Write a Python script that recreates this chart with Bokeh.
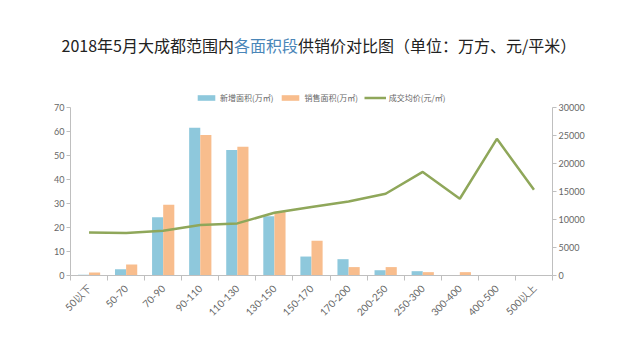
import math
from bokeh.plotting import figure
from bokeh.models import (Range1d, LinearAxis, FixedTicker, Legend, LegendItem,
                          Label, ColumnDataSource)
from bokeh.transform import dodge
from bokeh.embed import file_html
from bokeh.resources import INLINE

categories = ["50以下", "50-70", "70-90", "90-110", "110-130", "130-150", "150-170",
              "170-200", "200-250", "250-300", "300-400", "400-500", "500以上"]
new_area = [0.3, 2.6, 24.3, 61.6, 52.3, 24.7, 7.9, 6.8, 2.2, 1.8, 0.2, 0.0, 0.0]
sold_area = [1.2, 4.6, 29.5, 58.5, 53.6, 26.6, 14.5, 3.5, 3.5, 1.4, 1.4, 0.1, 0.1]
avg_price = [7700, 7600, 8000, 9000, 9300, 11200, 12250, 13200, 14600, 18500, 13700, 24400, 15300]
left_ticks = [0, 10, 20, 30, 40, 50, 60, 70]
right_ticks = [0, 5000, 10000, 15000, 20000, 25000, 30000]

title_parts = ["2018年5月大成都范围内", "各面积段", "供销价对比图（单位：万方、元/平米）"]
title_colors = ["#222222", "#4a86b8", "#222222"]

BLUE = "#8ec8dc"
ORANGE = "#f8bd8d"
GREEN = "#8fa75a"
AXIS = "#bfbfbf"
LABEL = "#666666"
FONT = "Lato"
CJK = "Noto Sans CJK SC"

W, H = 624, 344
N = len(categories)
AX_L, AX_R = 70, 552          # canvas px of the two value axes
FR_L, FR_R = 30, 588          # frame extent (wide, so title and tick labels fit inside)
BOTTOM = 275                  # x axis position
AXIS_H = 168                  # pixel height of the 0..70 part of the axis
BAND = (AX_R - AX_L) / N
L_MAX, R_MAX = left_ticks[-1], right_ticks[-1]
BELOW = (H - BOTTOM) / AXIS_H  # share of the axis scale that lies below zero

idx = list(range(N))
src = ColumnDataSource(dict(x=idx, new=new_area, sold=sold_area, price=avg_price))

p = figure(width=W, height=H, output_backend="svg", toolbar_location=None,
           x_range=Range1d(-0.5 - (AX_L - FR_L) / BAND, N - 0.5 + (FR_R - AX_R) / BAND),
           y_range=Range1d(-L_MAX * BELOW, L_MAX * BOTTOM / AXIS_H),
           min_border_left=FR_L, min_border_right=W - FR_R, min_border_top=0,
           min_border_bottom=0)
p.outline_line_color = None
p.grid.grid_line_color = None

p.extra_y_ranges = {"price": Range1d(-R_MAX * BELOW, R_MAX * BOTTOM / AXIS_H)}

r1 = p.vbar(x=dodge("x", -0.15, range=p.x_range), top="new", width=0.3, source=src,
            fill_color=BLUE, line_color=None)
r2 = p.vbar(x=dodge("x", 0.15, range=p.x_range), top="sold", width=0.3, source=src,
            fill_color=ORANGE, line_color=None)
r3 = p.line(x="x", y="price", source=src, y_range_name="price", line_color=GREEN,
            line_width=2.5)

def style(ax):
    ax.axis_line_color = AXIS
    ax.major_tick_line_color = AXIS
    ax.minor_tick_line_color = AXIS
    ax.major_label_text_color = LABEL
    ax.major_label_text_font = FONT
    ax.major_label_text_font_size = "9px"
    ax.major_tick_out = 4
    ax.major_tick_in = 0

xa = p.xaxis[0]
xa.ticker = FixedTicker(ticks=idx, minor_ticks=[i - 0.5 for i in range(N + 1)])
xa.major_label_overrides = {i: c for i, c in zip(idx, categories)}
xa.bounds = (-0.5, N - 0.5)
xa.fixed_location = 0
style(xa)
xa.major_label_text_font_size = "10px"
xa.major_tick_out = 0
xa.minor_tick_out = 5
xa.minor_tick_in = 0
xa.major_label_orientation = math.pi / 4
xa.major_label_standoff = 6

ya = p.yaxis[0]
ya.ticker = FixedTicker(ticks=left_ticks)
ya.bounds = (left_ticks[0], L_MAX)
ya.fixed_location = -0.5
style(ya)
ya.minor_tick_line_color = None
ya.major_label_standoff = 2

ra = LinearAxis(y_range_name="price", ticker=FixedTicker(ticks=right_ticks),
                bounds=(right_ticks[0], R_MAX), fixed_location=N - 0.5)
style(ra)
ra.minor_tick_line_color = None
ra.major_label_standoff = 2
p.add_layout(ra, "right")

legend = Legend(items=[LegendItem(label="新增面积(万㎡)", renderers=[r1]),
                       LegendItem(label="销售面积(万㎡)", renderers=[r2]),
                       LegendItem(label="成交均价(元/㎡)", renderers=[r3])],
                orientation="horizontal", location=(195 - FR_L, H - 103),
                label_text_font_size="8px", label_text_color=LABEL,
                label_text_font=CJK,
                glyph_width=22, glyph_height=7, label_standoff=3, spacing=6,
                padding=0, margin=0, border_line_color=None,
                background_fill_alpha=0, label_height=10)
p.add_layout(legend, "center")

# title in pieces so one part can be coloured
FS = 16.0
def seg_width(s):
    return sum(0.555 * FS if ord(ch) < 128 else FS for ch in s)

x0 = 61.0 - FR_L
for txt, col in zip(title_parts, title_colors):
    p.add_layout(Label(x=x0, y=H - 44, x_units="screen", y_units="screen",
                       text=txt, text_color=col, text_font=CJK,
                       text_font_size="16px", text_baseline="middle", text_align="left"))
    x0 += seg_width(txt)

open("out.html", "w").write(file_html(p, INLINE))
